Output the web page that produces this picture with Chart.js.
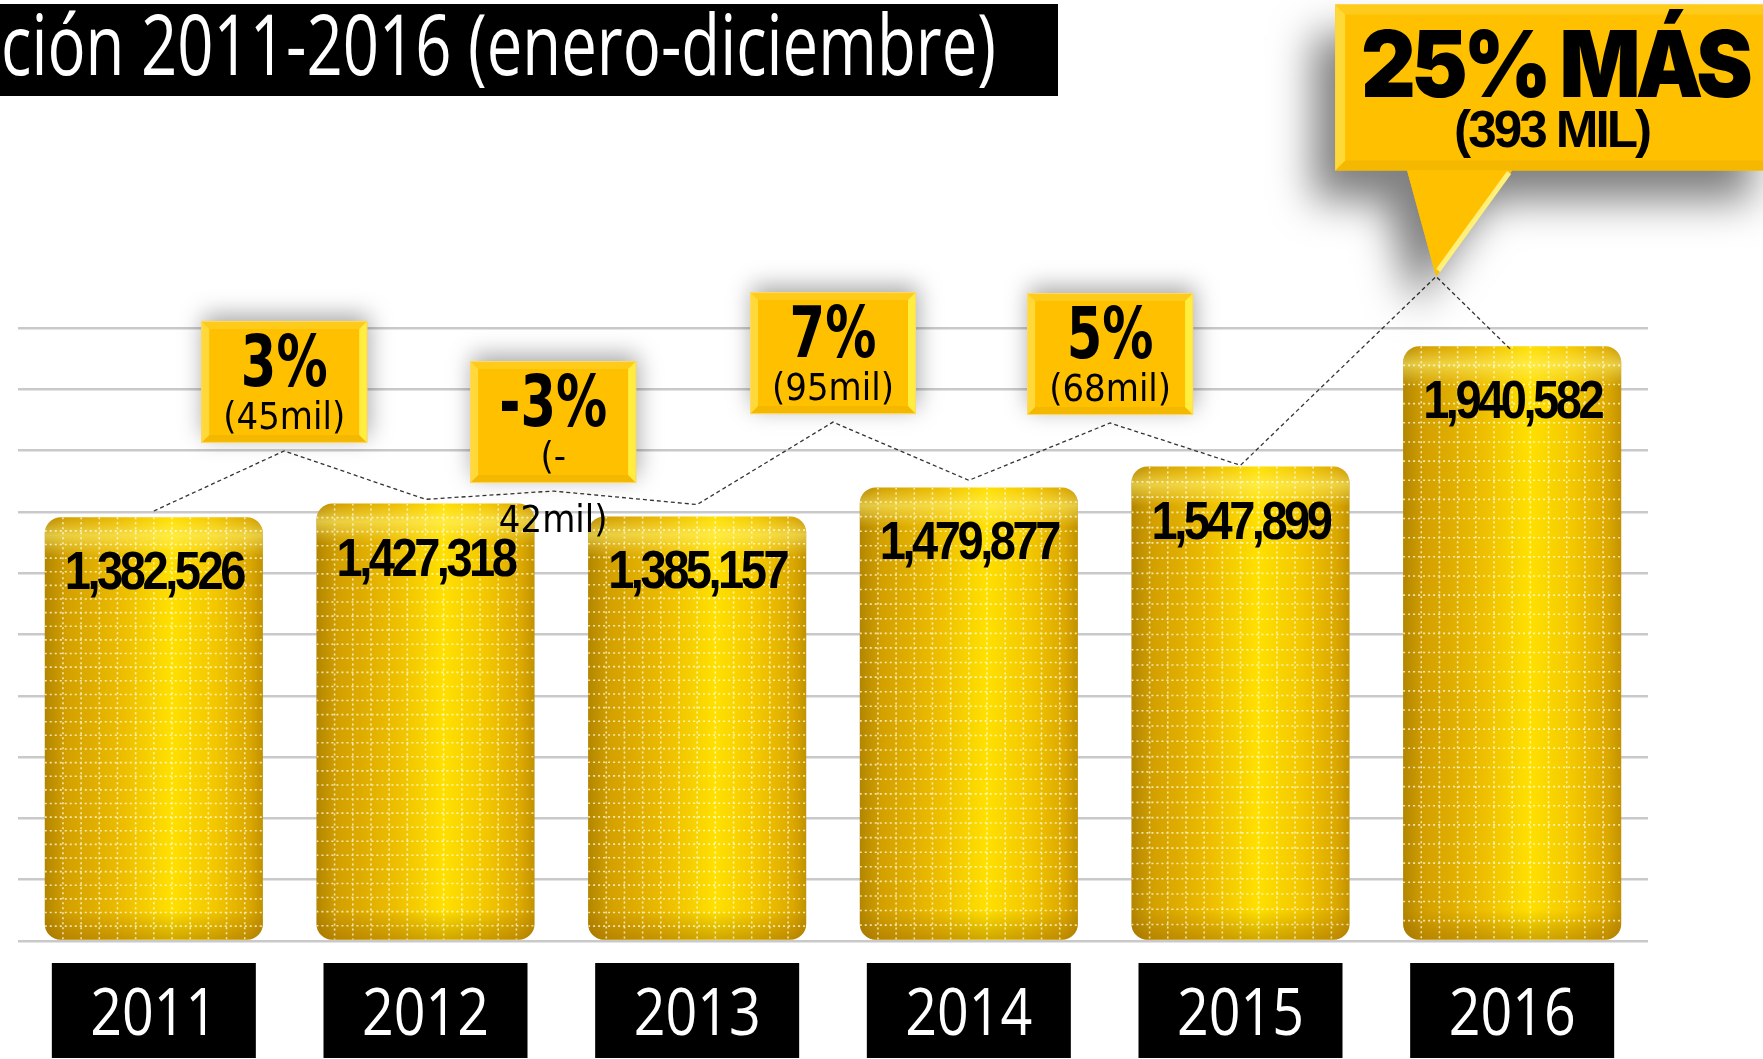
<!DOCTYPE html>
<html>
<head>
<meta charset="utf-8">
<title>Evolución 2011-2016</title>
<script src="https://cdn.jsdelivr.net/npm/chart.js@4.4.0/dist/chart.umd.min.js"></script>
<style>
    html, body { margin: 0; padding: 0; background: #fff; }
    #ChartWrap { width: 1763px; height: 1059px; position: relative; }
</style>
</head>
<body>
<div id="ChartWrap"><canvas id="VentasCanvas"></canvas></div>
<script>
// Data
const years = ['2011', '2012', '2013', '2014', '2015', '2016'];
const totals = [1382526, 1427318, 1385157, 1479877, 1547899, 1940582];
const changePct = ['3%', '-3%', '7%', '5%'];
const changeAbs = [['(45mil)'], ['(-', '42mil)'], ['(95mil)'], ['(68mil)']];
const bigChange = ['25% MÁS', '(393 MIL)'];
const titleText = 'ción 2011-2016 (enero-diciembre)';

// dashed connector: bar tops and the points under each callout (x in category units)
const linkX = [0, 0.48, 1, 1.47, 2, 2.5, 3, 3.52, 4, 4.72, 5];
const linkY = [1403000, 1599000, 1441000, 1468000, 1424000, 1693000, 1503000, 1690000, 1552000, 2168000, 1925000];

const yMax = 2000000;
const yStep = 200000;
const barPct = 0.803;

// draw text scaled horizontally so it takes the given width
function fitText(ctx, text, x, y, font, width, spacing, align) {
    ctx.save();
    ctx.font = font;
    ctx.letterSpacing = spacing || '0px';
    ctx.textAlign = 'left';
    ctx.textBaseline = 'alphabetic';
    const m = ctx.measureText(text).width;
    ctx.translate(x, y);
    ctx.scale(width / m, 1);
    ctx.fillText(text, align === 'left' ? 0 : -m / 2, 0);
    ctx.restore();
}

// draw text centred with a fixed horizontal squeeze
function squeeze(ctx, text, x, y, font, sx) {
    ctx.save();
    ctx.font = font;
    ctx.textAlign = 'center';
    ctx.textBaseline = 'alphabetic';
    ctx.translate(x, y);
    ctx.scale(sx, 1);
    ctx.fillText(text, 0, 0);
    ctx.restore();
}

function poly(ctx, pts, color) {
    ctx.fillStyle = color;
    ctx.beginPath();
    ctx.moveTo(pts[0][0], pts[0][1]);
    for (let i = 1; i < pts.length; i++) ctx.lineTo(pts[i][0], pts[i][1]);
    ctx.closePath();
    ctx.fill();
}

function bevelEdges(ctx, x, y, w, h, b) {
    poly(ctx, [[x, y], [x + w, y], [x + w - b, y + b], [x + b, y + b]], '#FFCB1A');
    poly(ctx, [[x, y + h], [x + w, y + h], [x + w - b, y + h - b], [x + b, y + h - b]], '#F5B800');
    poly(ctx, [[x, y], [x + b, y + b], [x + b, y + h - b], [x, y + h]], '#FFD83A');
    poly(ctx, [[x + w, y], [x + w - b, y + b], [x + w - b, y + h - b], [x + w, y + h]], '#FFEE40');
}

function bevelBox(ctx, x, y, w, h, b) {
    ctx.save();
    ctx.shadowColor = 'rgba(0,0,0,0.35)';
    ctx.shadowBlur = 22;
    ctx.shadowOffsetX = 2;
    ctx.shadowOffsetY = -6;
    ctx.fillStyle = '#FFC000';
    ctx.fillRect(x, y, w, h);
    ctx.restore();
    bevelEdges(ctx, x, y, w, h, b);
    ctx.strokeStyle = '#FFD966';
    ctx.lineWidth = 1;
    ctx.strokeRect(x + 0.5, y + 0.5, w - 1, h - 1);
}

function barFill(context) {
    const chart = context.chart;
    const xs = chart.scales.x;
    if (!xs || context.dataIndex === undefined) return '#F0C000';
    const c = xs.getPixelForValue(context.dataIndex);
    const half = xs.width / years.length * barPct / 2;
    if (!isFinite(c) || !isFinite(half) || half <= 0) return '#F0C000';
    const g = chart.ctx.createLinearGradient(c - half, 0, c + half, 0);
    g.addColorStop(0, '#B38600');
    g.addColorStop(0.1, '#D3A000');
    g.addColorStop(0.35, '#ECBC00');
    g.addColorStop(0.58, '#FFE000');
    g.addColorStop(0.78, '#F3C700');
    g.addColorStop(0.94, '#DBA800');
    g.addColorStop(1, '#C29200');
    return g;
}

// rim highlight, dotted texture and value label on each bar
const barDecor = {
    id: 'barDecor',
    afterDatasetDraw(chart, args) {
        if (args.index !== 0) return;
        const ctx = chart.ctx;
        args.meta.data.forEach((bar, i) => {
            const p = bar.getProps(['x', 'y', 'base', 'width'], true);
            const l = p.x - p.width / 2, t = p.y, w = p.width, h = p.base - p.y;
            ctx.save();
            ctx.beginPath();
            ctx.roundRect(l, t, w, h, 16);
            ctx.clip();

            let g = ctx.createLinearGradient(0, t, 0, t + 40);
            g.addColorStop(0, 'rgba(255,240,120,0)');
            g.addColorStop(0.45, 'rgba(255,245,120,0.55)');
            g.addColorStop(1, 'rgba(255,240,120,0)');
            ctx.fillStyle = g;
            ctx.fillRect(l, t, w, 40);

            g = ctx.createLinearGradient(0, p.base - 30, 0, p.base);
            g.addColorStop(0, 'rgba(150,100,0,0)');
            g.addColorStop(1, 'rgba(150,100,0,0.45)');
            ctx.fillStyle = g;
            ctx.fillRect(l, p.base - 30, w, 30);

            ctx.strokeStyle = 'rgba(255,255,235,0.75)';
            ctx.lineWidth = 1.6;
            ctx.setLineDash([2, 3]);
            ctx.beginPath();
            for (let k = 1; k < 12; k++) {
                const xx = l + k * w / 12;
                ctx.moveTo(xx, t);
                ctx.lineTo(xx, p.base);
            }
            for (let k = 1; k < 31; k++) {
                const yy = t + k * h / 31;
                ctx.moveTo(l, yy);
                ctx.lineTo(l + w, yy);
            }
            ctx.stroke();
            ctx.restore();

            ctx.fillStyle = '#000';
            fitText(ctx, totals[i].toLocaleString('en-US'), p.x, p.y + 72,
                'bold 54px "Liberation Sans", Arial, sans-serif', 178, '-4px');
        });
    }
};

// title strip, year boxes and the callouts
const overlay = {
    id: 'overlay',
    afterDraw(chart) {
        const ctx = chart.ctx;
        const xs = chart.scales.x, xl = chart.scales.xl, ys = chart.scales.y;

        // Title
        ctx.fillStyle = '#000';
        ctx.fillRect(0, 4, 1058, 92);
        ctx.fillStyle = '#fff';
        fitText(ctx, titleText, 1, 75, '84px "Open Sans", sans-serif', 995, '0px', 'left');

        // Year boxes
        years.forEach((yr, i) => {
            const cx = xs.getPixelForValue(i);
            ctx.fillStyle = '#000';
            ctx.fillRect(cx - 102, 963, 204, 95);
            ctx.fillStyle = '#fff';
            fitText(ctx, yr, cx, 1035, '66px "Open Sans", sans-serif', 127);
        });

        // Small callouts over the connector peaks
        changePct.forEach((pct, i) => {
            const k = 2 * i + 1;
            const cx = xl.getPixelForValue(linkX[k]);
            const py = ys.getPixelForValue(linkY[k]);
            const w = 166, h = 122;
            const top = py - 8 - h;
            bevelBox(ctx, cx - w / 2, top, w, h, 8);
            ctx.fillStyle = '#000';
            squeeze(ctx, pct, cx, top + 65, 'bold 71px "DejaVu Sans", sans-serif', 0.72);
            changeAbs[i].forEach((line, j) => {
                squeeze(ctx, line, cx, top + 108 + 63 * j, '37px "DejaVu Sans", sans-serif', 0.92);
            });
        });

        // Big callout with tail
        const k = linkX.length - 2;
        const tx = xl.getPixelForValue(linkX[k]);
        const ty = ys.getPixelForValue(linkY[k]);
        const L = tx - 101, R = tx + 338, T = ty - 272, B = ty - 106;
        const tl = tx - 29, tr = tx + 76;
        ctx.save();
        ctx.shadowColor = 'rgba(0,0,0,0.5)';
        ctx.shadowBlur = 40;
        ctx.shadowOffsetX = -22;
        ctx.shadowOffsetY = 30;
        poly(ctx, [[L, T], [R, T], [R, B], [tr, B], [tx, ty], [tl, B], [L, B]], '#FFC000');
        ctx.restore();
        bevelEdges(ctx, L, T, R - L, B - T, 10);
        poly(ctx, [[tl, B], [tr, B], [tx, ty]], '#FFC000');
        ctx.strokeStyle = '#FFF07A';
        ctx.lineWidth = 5;
        ctx.beginPath();
        ctx.moveTo(tr - 3, B + 2);
        ctx.lineTo(tx + 2, ty - 6);
        ctx.stroke();
        ctx.fillStyle = '#000';
        const mid = (L + R) / 2;
        fitText(ctx, bigChange[0], mid, T + 92, '900 92px Inter, Roboto, "Liberation Sans", sans-serif', 387, '-5px');
        fitText(ctx, bigChange[1], mid - 3, T + 142, 'bold 51px "Liberation Sans", Arial, sans-serif', 195, '-3px');
    }
};

function initChart() {
    const ctx = document.getElementById('VentasCanvas').getContext('2d');
    new Chart(ctx, {
        type: 'bar',
        data: {
            labels: years,
            datasets: [{
                label: 'Total',
                data: totals,
                xAxisID: 'x',
                yAxisID: 'y',
                backgroundColor: barFill,
                borderRadius: 16,
                borderSkipped: false,
                barPercentage: barPct,
                categoryPercentage: 1,
                grouped: false,
                order: 2
            }, {
                type: 'line',
                label: 'Variación',
                data: linkX.map((x, i) => ({ x: x, y: linkY[i] })),
                xAxisID: 'xl',
                yAxisID: 'y',
                borderColor: '#333',
                borderWidth: 1.3,
                borderDash: [4, 3],
                pointRadius: 0,
                fill: false,
                tension: 0,
                clip: false,
                order: 1
            }]
        },
        options: {
            responsive: true,
            maintainAspectRatio: false,
            animation: false,
            layout: { padding: { left: 18, right: 115, top: 328, bottom: 118 } },
            plugins: { legend: { display: false }, tooltip: { enabled: false } },
            scales: {
                x: { type: 'category', display: false, offset: true, grid: { display: false } },
                xl: { type: 'linear', display: false, offset: false, min: -0.5, max: 5.5, grid: { display: false } },
                y: {
                    min: 0,
                    max: yMax,
                    ticks: { stepSize: yStep, display: false },
                    grid: { color: '#c9c9c9', lineWidth: 2.5, drawTicks: false },
                    border: { display: false }
                }
            }
        },
        plugins: [barDecor, overlay]
    });
}

window.addEventListener('load', initChart);
</script>
</body>
</html>
